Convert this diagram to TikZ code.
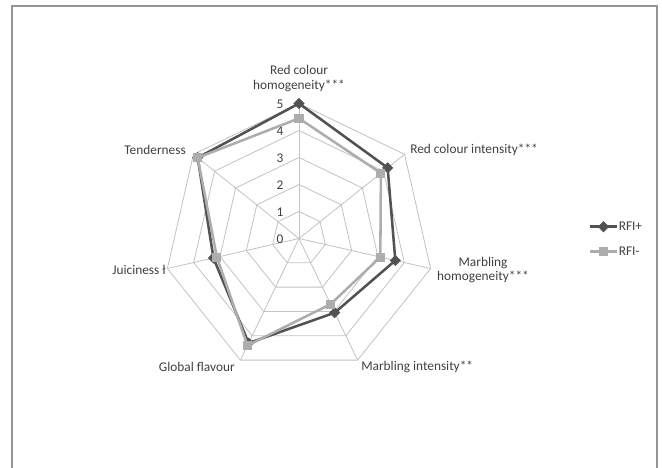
\documentclass[tikz,border=0pt]{standalone}
\usepackage{fontspec}
\setmainfont{Carlito}
\usetikzlibrary{positioning,shapes.geometric}

\begin{document}
\begin{tikzpicture}[
  x=0.75pt, y=0.75pt,
  font=\fontsize{10}{11}\selectfont,
  every node/.style={text=black!75, inner sep=0pt},
  grid/.style={draw=black!24, line width=0.6pt},
  frame/.style={draw=black!42, line width=1.1pt},
  plusline/.style={draw=black!68, line width=1.9pt, line join=round},
  minusline/.style={draw=black!32, line width=1.9pt, line join=round},
  plusmark/.style={diamond, fill=black!68, minimum size=8.5pt},
  minusmark/.style={rectangle, fill=black!32, minimum size=6.8pt}
]
\useasboundingbox (0,0) rectangle (662,468);
\draw[frame] (12,0) -- (12,462) -- (657,462) -- (657,0);

\begin{scope}[shift={(299,229.5)}]
% rings and spokes
\foreach \l in {1,...,5}
  \draw[grid] (90:\l*27) \foreach \k in {1,...,6} {-- (90-\k*360/7:\l*27)} -- cycle;
\foreach \k in {0,...,6}
  \draw[grid] (0,0) -- (90-\k*360/7:135);
\foreach \l in {0,...,5}
  \node (n\l) at (-19, \l*27-1) {\l};

% data points
\foreach \v [count=\k from 0] in {5.0,4.2,3.66,3.05,4.3,3.25,4.8}
  \coordinate (p\k) at (90-\k*360/7:\v*27);
\foreach \v [count=\k from 0] in {4.45,3.88,3.09,2.7,4.4,3.12,4.8}
  \coordinate (m\k) at (90-\k*360/7:\v*27);

\draw[plusline] (p0) -- (p1) -- (p2) -- (p3) -- (p4) -- (p5) -- (p6) -- cycle;
\foreach \k in {0,...,6}
  \node[plusmark] (pd\k) at (p\k) {};
\draw[minusline] (m0) -- (m1) -- (m2) -- (m3) -- (m4) -- (m5) -- (m6) -- cycle;
\foreach \k in {0,...,6}
  \node[minusmark] (ms\k) at (m\k) {};
\end{scope}

% axis labels
\node[align=center] (lrch) at (299,389.5) {Red colour\\homogeneity***};
\node[anchor=west] (lrci) at (410,318) {Red colour intensity***};
\node[align=center] (lmh) at (483,198) {Marbling\\homogeneity***};
\node[anchor=west] (lmi) at (361,101) {Marbling intensity**};
\node[anchor=east] (lgf) at (235,101) {Global flavour};
\node[anchor=east] (lju) at (166,198) {Juiciness ł};
\node[anchor=east] (lte) at (186,318) {Tenderness};

% legend
\coordinate (ka) at (590,241.3);
\coordinate (kb) at (617,241.3);
\coordinate (kc) at (590,216.3);
\coordinate (kd) at (617,216.3);
\draw[plusline] (ka) -- (kb);
\node[plusmark] (kp) at (603.5,241.3) {};
\node[anchor=west] (kpt) at (618.5,241.3) {RFI+};
\draw[minusline] (kc) -- (kd);
\node[minusmark] (km) at (603.5,216.3) {};
\node[anchor=west] (kmt) at (618.5,216.3) {RFI-};
\end{tikzpicture}
\end{document}
